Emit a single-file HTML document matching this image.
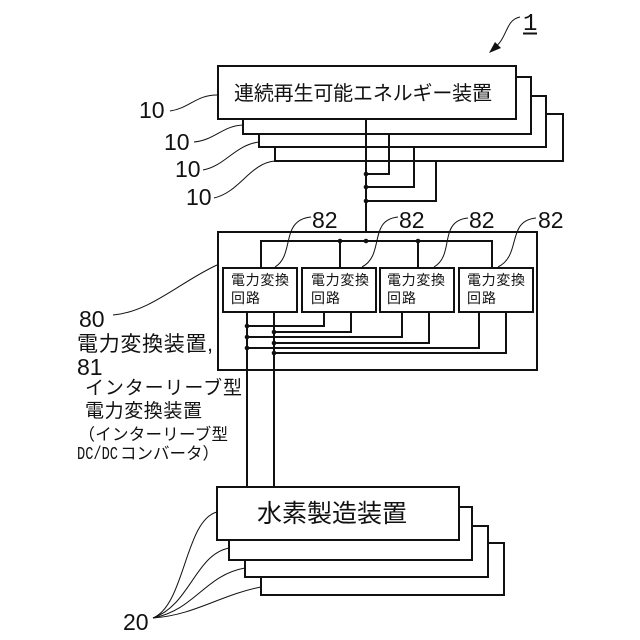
<!DOCTYPE html>
<html lang="ja">
<head>
<meta charset="utf-8">
<title>diagram</title>
<style>
html,body{margin:0;padding:0;background:#fff;width:640px;height:640px;overflow:hidden}
svg{display:block}
text{font-family:"Liberation Sans","Noto Sans CJK JP",sans-serif;fill:#111}
.b{fill:#fff;stroke:#111;stroke-width:2}
.w{fill:none;stroke:#111;stroke-width:2}
.l{fill:none;stroke:#111;stroke-width:1}
.n{font-size:23px}
.c{font-size:14px}
</style>
</head>
<body>
<svg width="640" height="640" viewBox="0 0 640 640" xmlns="http://www.w3.org/2000/svg">
<!-- reference 1 -->
<text x="523" y="30" font-size="24" style="font-family:'Liberation Mono',monospace">1</text>
<path class="w" d="M523 33.5H537" stroke-width="1.5"/>
<path class="l" d="M520 17C505 20,508 38,494 48"/>
<path d="M489 53L495 42L501 48Z" fill="#111"/>

<!-- top stack -->
<rect class="b" x="275" y="114" width="288" height="47"/>
<rect class="b" x="259" y="96" width="287" height="51"/>
<rect class="b" x="243" y="77" width="288" height="57"/>
<rect class="b" x="218" y="66" width="298" height="53"/>
<text x="234" y="100" font-size="20" textLength="258">連続再生可能エネルギー装置</text>

<path class="w" d="M366 119V241M389 134V174H366M414 147V187H366M436 161V201H366"/>
<circle cx="366" cy="174" r="2.3" fill="#111"/>
<circle cx="366" cy="187" r="2.3" fill="#111"/>
<circle cx="366" cy="201" r="2.3" fill="#111"/>

<text class="n" x="139" y="118">10</text>
<text class="n" x="164" y="150">10</text>
<text class="n" x="175" y="177">10</text>
<text class="n" x="186" y="205">10</text>
<path class="l" d="M170 111C190 108,196 95,217 95"/>
<path class="l" d="M194 142C215 140,222 126,243 125"/>
<path class="l" d="M203 170C225 166,235 145,259 142"/>
<path class="l" d="M214 198C240 192,250 163,275 161"/>

<!-- converter -->
<rect class="b" x="218" y="232" width="319" height="138"/>
<path class="w" d="M261 268V241H492V268M340 241V268M418 241V268"/>
<circle cx="340" cy="241" r="2.3" fill="#111"/>
<circle cx="366" cy="241" r="2.3" fill="#111"/>
<circle cx="418" cy="241" r="2.3" fill="#111"/>

<rect class="b" x="223" y="268" width="74" height="44"/>
<rect class="b" x="302" y="268" width="74" height="44"/>
<rect class="b" x="380" y="268" width="74" height="44"/>
<rect class="b" x="459" y="268" width="74" height="44"/>
<text class="c" x="231" y="285" textLength="58">電力変換</text>
<text class="c" x="231" y="303" textLength="29">回路</text>
<text class="c" x="311" y="285" textLength="58">電力変換</text>
<text class="c" x="311" y="303" textLength="29">回路</text>
<text class="c" x="387" y="285" textLength="58">電力変換</text>
<text class="c" x="387" y="303" textLength="29">回路</text>
<text class="c" x="467" y="285" textLength="58">電力変換</text>
<text class="c" x="467" y="303" textLength="29">回路</text>

<path class="w" d="M247 312V487M274 312V487"/>
<path class="w" d="M247 326H324V312M274 332H351V312M247 337H402V312M274 343H429V312M247 348H479V312M274 353H506V312"/>
<g fill="#111">
<circle cx="247" cy="326" r="2.3"/><circle cx="247" cy="337" r="2.3"/><circle cx="247" cy="348" r="2.3"/>
<circle cx="274" cy="332" r="2.3"/><circle cx="274" cy="343" r="2.3"/><circle cx="274" cy="353" r="2.3"/>
</g>

<text class="n" x="312" y="228">82</text>
<text class="n" x="399" y="228">82</text>
<text class="n" x="469" y="228">82</text>
<text class="n" x="538" y="228">82</text>
<path class="l" d="M311 217C280 220,295 255,275 267"/>
<path class="l" d="M398 217C368 220,385 255,362 267"/>
<path class="l" d="M468 218C438 221,455 255,434 267"/>
<path class="l" d="M536 218C506 221,522 255,498 267"/>

<!-- left labels -->
<path class="l" d="M113 315C150 312,180 282,217 265"/>
<text class="n" x="79" y="327">80</text>
<text x="77" y="351" font-size="21" textLength="136">電力変換装置,</text>
<text class="n" x="77" y="375">81</text>
<text x="85" y="394" font-size="19" textLength="157">インターリーブ型</text>
<text x="85" y="417" font-size="19" textLength="117">電力変換装置</text>
<text x="78.5" y="440" font-size="16.5" textLength="149.5">（インターリーブ型</text>
<text x="77" y="459" font-size="18" textLength="41" lengthAdjust="spacingAndGlyphs" style="font-family:'Liberation Mono',monospace">DC/DC</text>
<text x="120" y="459" font-size="16.5">コンバータ）</text>

<!-- bottom stack -->
<rect class="b" x="261" y="543" width="243" height="52"/>
<rect class="b" x="245" y="526" width="243" height="51"/>
<rect class="b" x="229" y="507" width="243" height="53"/>
<rect class="b" x="217" y="487" width="242" height="53"/>
<text x="257" y="522" font-size="25" textLength="150">水素製造装置</text>

<path class="l" d="M153 618C185 605,185 520,217 512"/>
<path class="l" d="M153 618C190 605,195 555,229 548"/>
<path class="l" d="M153 618C195 610,205 575,245 568"/>
<path class="l" d="M153 618C195 615,220 595,261 587"/>
<text class="n" x="123" y="630">20</text>
</svg>
</body>
</html>
